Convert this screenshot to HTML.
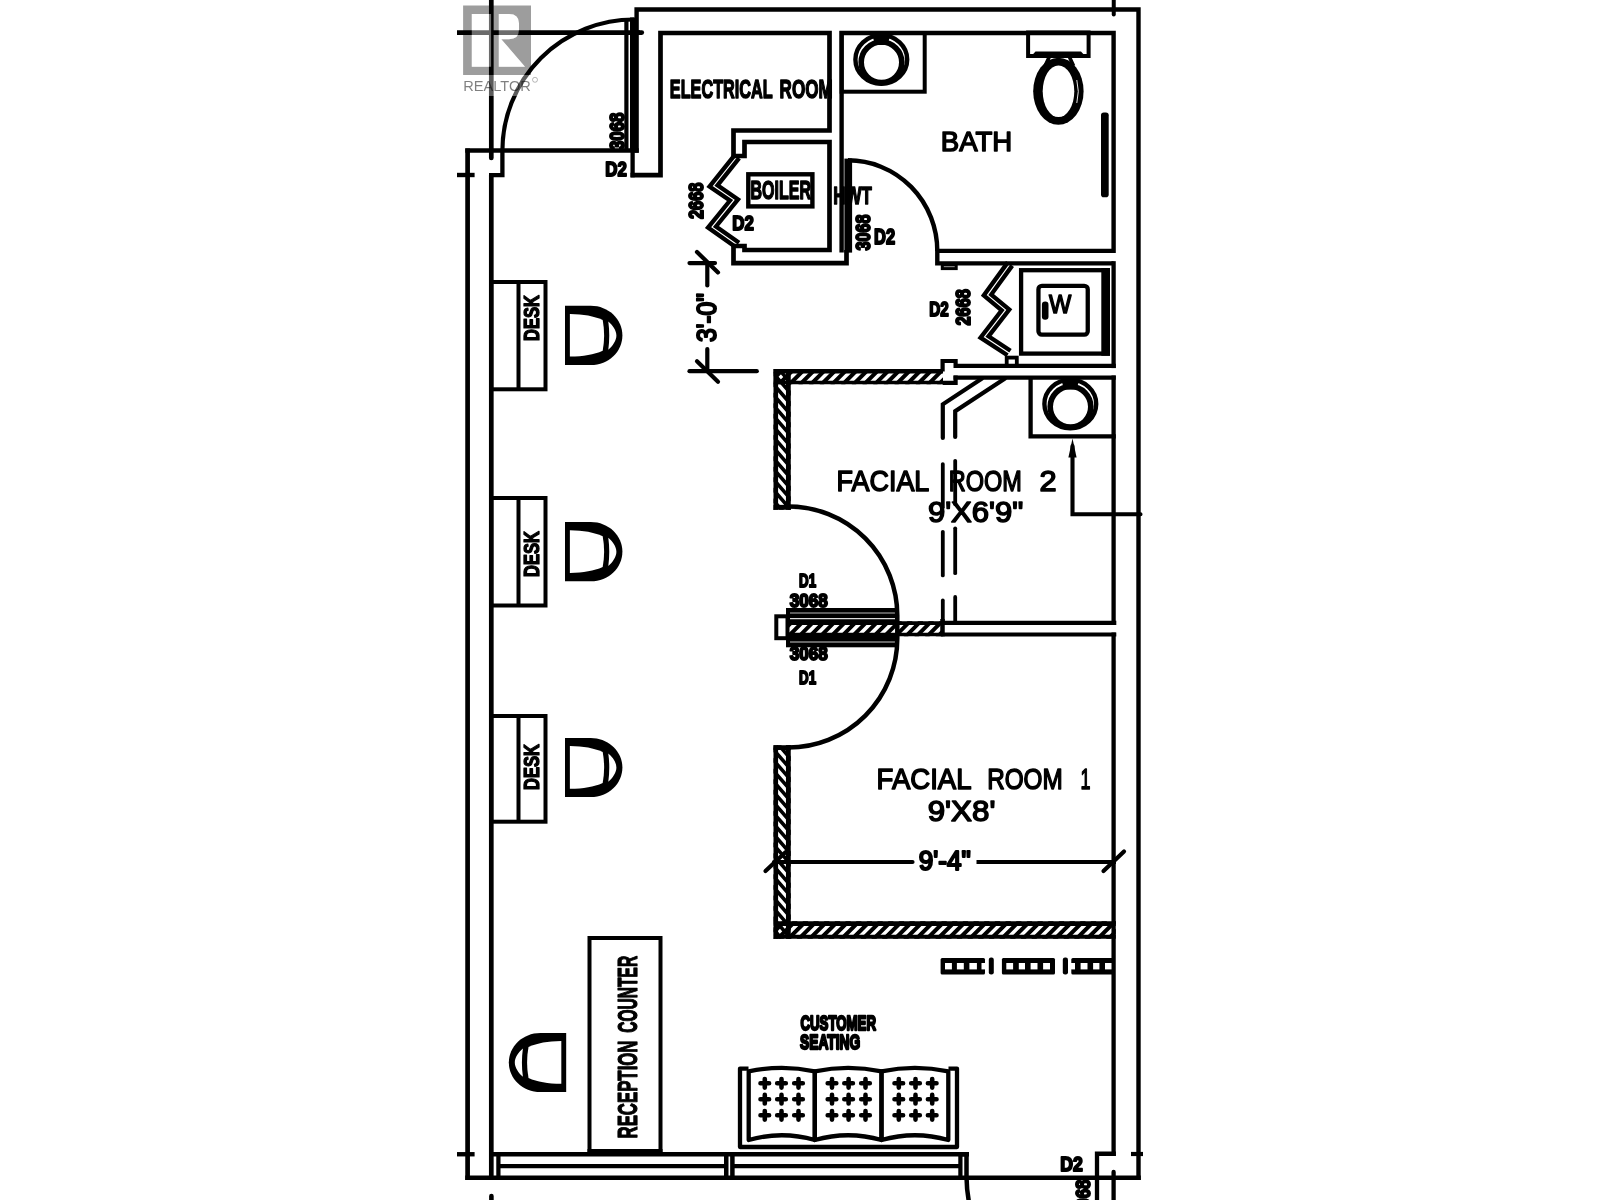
<!DOCTYPE html>
<html><head><meta charset="utf-8"><title>Floor plan</title>
<style>
html,body{margin:0;padding:0;background:#fff;}
body{width:1600px;height:1200px;overflow:hidden;font-family:"Liberation Sans",sans-serif;}
svg{display:block;filter:grayscale(1)}
</style></head><body>
<svg width="1600" height="1200" viewBox="0 0 1600 1200">
<rect width="1600" height="1200" fill="#fff"/>
<line x1="467.6" y1="148.4" x2="467.6" y2="1180" stroke="#000" stroke-width="4.7" stroke-linecap="butt" />
<line x1="491.3" y1="0" x2="491.3" y2="158" stroke="#000" stroke-width="4.7" stroke-linecap="round" />
<line x1="491.3" y1="175" x2="491.3" y2="1180" stroke="#000" stroke-width="4.7" stroke-linecap="butt" />
<line x1="465.25" y1="150.5" x2="638.75" y2="150.5" stroke="#000" stroke-width="4.5" stroke-linecap="butt" />
<path d="M489 175.1 L502.4 175.1 L502.4 150.5" fill="none" stroke="#000" stroke-width="4.3" stroke-linejoin="miter" stroke-linecap="butt"/>
<line x1="457" y1="175" x2="474.6" y2="175" stroke="#000" stroke-width="4.4" stroke-linecap="butt" />
<line x1="457" y1="32.6" x2="640" y2="32.6" stroke="#000" stroke-width="4.6" stroke-linecap="butt" />
<line x1="638" y1="32.6" x2="641.8" y2="32.6" stroke="#000" stroke-width="4.6" stroke-linecap="round" />
<path d="M636.6 152.75 L636.6 9.5 L1138.5 9.5 L1138.5 1180" fill="none" stroke="#000" stroke-width="4.4" stroke-linejoin="miter" stroke-linecap="butt"/>
<line x1="632.6" y1="148.3" x2="632.6" y2="177.3" stroke="#000" stroke-width="4.3" stroke-linecap="butt" />
<line x1="1113.75" y1="0" x2="1113.75" y2="14.5" stroke="#000" stroke-width="4" stroke-linecap="round" />
<path d="M630.5 175.1 L660.5 175.1 L660.5 33 L829.5 33 L829.5 130.5 L733.5 130.5 L733.5 156 L744.5 156 L744.5 142 L829.5 142 L829.5 250 L744.5 250 L744.5 246 L733.5 246 L733.5 263.2 L846.5 263.2 L846.5 250" fill="none" stroke="#000" stroke-width="4.7" stroke-linejoin="miter" stroke-linecap="butt"/>
<line x1="626.4" y1="19.5" x2="626.4" y2="150" stroke="#000" stroke-width="4.2" stroke-linecap="butt" />
<line x1="633.2" y1="17.5" x2="633.2" y2="152" stroke="#000" stroke-width="6.4" stroke-linecap="butt" />
<path d="M634 19.5 A131.6 131.2 0 0 0 502.4 150.7" fill="none" stroke="#000" stroke-width="4.2" />
<path d="M841.6 252.5 L841.6 33 L1113.6 33 L1113.6 250.85 L937.3 250.85 L937.3 263.4 L1113.6 263.4" fill="none" stroke="#000" stroke-width="4.4" stroke-linejoin="miter" stroke-linecap="butt"/>
<line x1="1113.6" y1="261.15" x2="1113.6" y2="368.1" stroke="#000" stroke-width="4.3" stroke-linecap="butt" />
<line x1="1113.6" y1="375.4" x2="1113.6" y2="624.9" stroke="#000" stroke-width="4.3" stroke-linecap="butt" />
<line x1="1113.6" y1="632.4" x2="1113.6" y2="1155.9" stroke="#000" stroke-width="4.3" stroke-linecap="butt" />
<rect x="844.4" y="158.6" width="7.7" height="94" fill="#000"/>
<path d="M848 160.3 A89.3 90.6 0 0 1 937.3 251" fill="none" stroke="#000" stroke-width="4.4" />
<rect x="841.6" y="33" width="83.10000000000002" height="58.7" rx="0" fill="none" stroke="#000" stroke-width="4"/>
<ellipse cx="881.3" cy="59.5" rx="25.9" ry="24.2" fill="none" stroke="#000" stroke-width="4.4"/>
<circle cx="881.5" cy="62.3" r="20.3" fill="none" stroke="#000" stroke-width="5.6"/>
<path d="M872.3 34.0 L890.3 34.0 L887.8 45.0 L874.8 45.0 Z" fill="#000"/>
<rect x="1028.1" y="32.5" width="60.5" height="23.5" rx="0" fill="none" stroke="#000" stroke-width="4"/>
<path d="M1030 57.5 L1035.5 51.5 L1081 51.5 L1086.5 57.5 Z" fill="#000"/>
<path d="M1049.7 56 L1045 66 M1069 56 L1073.6 66" stroke="#000" stroke-width="3.6" fill="none"/>
<ellipse cx="1058.4" cy="91.3" rx="25.2" ry="33.5" fill="#000"/>
<ellipse cx="1058.5" cy="91.3" rx="15.8" ry="25.8" fill="#fff"/>
<path d="M1076.8 80 Q1079.8 91.3 1076.8 103" stroke="#fff" stroke-width="0.9" fill="none"/>
<rect x="1101" y="112.4" width="7.7" height="84.8" rx="2.8" fill="#000"/>
<text x="940.8" y="151.25" font-family="Liberation Sans" font-size="28.5" font-weight="normal" text-anchor="start" textLength="71.5" lengthAdjust="spacingAndGlyphs" stroke="#000" stroke-width="1.5" stroke-linejoin="round" fill="#000">BATH</text>
<rect x="942.3" y="265" width="13.900000000000091" height="3.6000000000000227" rx="0" fill="none" stroke="#000" stroke-width="3"/>
<g stroke-miterlimit="3">
<path d="M734.8490586317215 154.78653823204937 L709.5 186.6 L729.98 200.58 L708.01 227.55 L735.9141212066037 247.2466616239781" fill="none" stroke="#000" stroke-width="4.3" stroke-linejoin="miter" stroke-linecap="butt"/>
<path d="M739.1509413682785 158.21346176795063 L717.5 185.4 L738.02 199.42 L715.99 226.45 L739.0858787933963 242.7533383760219" fill="none" stroke="#000" stroke-width="4.3" stroke-linejoin="miter" stroke-linecap="butt"/>
</g>
<rect x="748.3" y="174.3" width="64.10000000000002" height="32.099999999999994" rx="0" fill="none" stroke="#000" stroke-width="4.4"/>
<text x="750.5" y="198.65" font-family="Liberation Sans" font-size="26.5" font-weight="bold" text-anchor="start" textLength="60.5" lengthAdjust="spacingAndGlyphs" stroke="#000" stroke-width="1.5" stroke-linejoin="round" fill="#000">BOILER</text>
<text x="732.3" y="230.0" font-family="Liberation Sans" font-size="21" font-weight="bold" text-anchor="start" textLength="21.5" lengthAdjust="spacingAndGlyphs" stroke="#000" stroke-width="2.0" stroke-linejoin="round" fill="#000">D2</text>
<text x="702.5" y="219.0" font-family="Liberation Sans" font-size="21" font-weight="bold" text-anchor="start" textLength="36.5" lengthAdjust="spacingAndGlyphs" transform="rotate(-90 702.5 219.0)" stroke="#000" stroke-width="2.0" stroke-linejoin="round" fill="#000">2668</text>
<text x="833.3" y="203.9" font-family="Liberation Sans" font-size="24.5" font-weight="bold" text-anchor="start" textLength="38.5" lengthAdjust="spacingAndGlyphs" stroke="#000" stroke-width="1.4" stroke-linejoin="round" fill="#000">HWT</text>
<text x="869.6" y="250.5" font-family="Liberation Sans" font-size="21" font-weight="bold" text-anchor="start" textLength="36.0" lengthAdjust="spacingAndGlyphs" transform="rotate(-90 869.6 250.5)" stroke="#000" stroke-width="2.0" stroke-linejoin="round" fill="#000">3068</text>
<text x="874.1" y="243.5" font-family="Liberation Sans" font-size="21.5" font-weight="bold" text-anchor="start" textLength="21.0" lengthAdjust="spacingAndGlyphs" stroke="#000" stroke-width="2.0" stroke-linejoin="round" fill="#000">D2</text>
<text x="605.3" y="175.5" font-family="Liberation Sans" font-size="21" font-weight="bold" text-anchor="start" textLength="21.5" lengthAdjust="spacingAndGlyphs" stroke="#000" stroke-width="2.0" stroke-linejoin="round" fill="#000">D2</text>
<text x="623.5" y="150.0" font-family="Liberation Sans" font-size="21" font-weight="bold" text-anchor="start" textLength="37.5" lengthAdjust="spacingAndGlyphs" transform="rotate(-90 623.5 150.0)" stroke="#000" stroke-width="2.0" stroke-linejoin="round" fill="#000">3068</text>
<text x="669.8" y="98.05" font-family="Liberation Sans" font-size="26.5" font-weight="bold" text-anchor="start" textLength="103.0" lengthAdjust="spacingAndGlyphs" stroke="#000" stroke-width="1.5" stroke-linejoin="round" fill="#000">ELECTRICAL</text>
<text x="779.6" y="98.05" font-family="Liberation Sans" font-size="26.5" font-weight="bold" text-anchor="start" textLength="53.0" lengthAdjust="spacingAndGlyphs" stroke="#000" stroke-width="1.5" stroke-linejoin="round" fill="#000">ROOM</text>
<line x1="689.5" y1="263.1" x2="715" y2="263.1" stroke="#000" stroke-width="4.2" stroke-linecap="round" />
<line x1="707.3" y1="263" x2="707.3" y2="285.5" stroke="#000" stroke-width="4.2" stroke-linecap="round" />
<line x1="707.3" y1="349" x2="707.3" y2="371" stroke="#000" stroke-width="4.2" stroke-linecap="round" />
<line x1="697" y1="252" x2="718" y2="272.4" stroke="#000" stroke-width="4.2" stroke-linecap="round" />
<line x1="689.5" y1="371.2" x2="756.8" y2="371.2" stroke="#000" stroke-width="4.2" stroke-linecap="round" />
<line x1="697" y1="361.3" x2="718" y2="381.7" stroke="#000" stroke-width="4.2" stroke-linecap="round" />
<text x="715.55" y="342.0" font-family="Liberation Sans" font-size="28.5" font-weight="normal" text-anchor="start" textLength="49.0" lengthAdjust="spacingAndGlyphs" transform="rotate(-90 715.55 342.0)" stroke="#000" stroke-width="2.1" stroke-linejoin="round" fill="#000">3&#39;-0&quot;</text>
<rect x="491.2" y="282" width="54.30000000000001" height="107.30000000000001" rx="0" fill="none" stroke="#000" stroke-width="4"/>
<line x1="518.5" y1="282" x2="518.5" y2="389.3" stroke="#000" stroke-width="4" stroke-linecap="butt" />
<rect x="491.2" y="498" width="54.30000000000001" height="107.5" rx="0" fill="none" stroke="#000" stroke-width="4"/>
<line x1="518.5" y1="498" x2="518.5" y2="605.5" stroke="#000" stroke-width="4" stroke-linecap="butt" />
<rect x="491.2" y="716" width="54.30000000000001" height="105.70000000000005" rx="0" fill="none" stroke="#000" stroke-width="4"/>
<line x1="518.5" y1="716" x2="518.5" y2="821.7" stroke="#000" stroke-width="4" stroke-linecap="butt" />
<text x="538.65" y="341.0" font-family="Liberation Sans" font-size="21.5" font-weight="bold" text-anchor="start" textLength="46.0" lengthAdjust="spacingAndGlyphs" transform="rotate(-90 538.65 341.0)" stroke="#000" stroke-width="1.3" stroke-linejoin="round" fill="#000">DESK</text>
<text x="538.65" y="577.0" font-family="Liberation Sans" font-size="21.5" font-weight="bold" text-anchor="start" textLength="46.0" lengthAdjust="spacingAndGlyphs" transform="rotate(-90 538.65 577.0)" stroke="#000" stroke-width="1.3" stroke-linejoin="round" fill="#000">DESK</text>
<text x="538.65" y="790.0" font-family="Liberation Sans" font-size="21.5" font-weight="bold" text-anchor="start" textLength="46.0" lengthAdjust="spacingAndGlyphs" transform="rotate(-90 538.65 790.0)" stroke="#000" stroke-width="1.3" stroke-linejoin="round" fill="#000">DESK</text>
<g transform="translate(593.7 335.4) scale(1 1)">
<path d="M-28.7 -29.6 L-3 -29.6 C15 -29.6 28.7 -16 28.7 0 C28.7 16 15 29.6 -3 29.6 L-28.7 29.6 Z" fill="#000"/>
<path d="M-23.8 -21.4 C-10 -21 0 -19.5 9 -15.4 C10.9 -5 10.9 5 9 15.4 C0 19.5 -10 21 -23.8 21.2 Z" fill="#fff"/>
<path d="M14.6 -14 C19 -10.5 22.7 -5 22.7 0 C22.7 5 19 10.5 14.6 14.3 C15.9 5 15.9 -5 14.6 -14 Z" fill="#fff"/>
</g>
<g transform="translate(593.7 551.7) scale(1 1)">
<path d="M-28.7 -29.6 L-3 -29.6 C15 -29.6 28.7 -16 28.7 0 C28.7 16 15 29.6 -3 29.6 L-28.7 29.6 Z" fill="#000"/>
<path d="M-23.8 -21.4 C-10 -21 0 -19.5 9 -15.4 C10.9 -5 10.9 5 9 15.4 C0 19.5 -10 21 -23.8 21.2 Z" fill="#fff"/>
<path d="M14.6 -14 C19 -10.5 22.7 -5 22.7 0 C22.7 5 19 10.5 14.6 14.3 C15.9 5 15.9 -5 14.6 -14 Z" fill="#fff"/>
</g>
<g transform="translate(593.7 767.5) scale(1 1)">
<path d="M-28.7 -29.6 L-3 -29.6 C15 -29.6 28.7 -16 28.7 0 C28.7 16 15 29.6 -3 29.6 L-28.7 29.6 Z" fill="#000"/>
<path d="M-23.8 -21.4 C-10 -21 0 -19.5 9 -15.4 C10.9 -5 10.9 5 9 15.4 C0 19.5 -10 21 -23.8 21.2 Z" fill="#fff"/>
<path d="M14.6 -14 C19 -10.5 22.7 -5 22.7 0 C22.7 5 19 10.5 14.6 14.3 C15.9 5 15.9 -5 14.6 -14 Z" fill="#fff"/>
</g>
<g transform="translate(537.5 1062.5) scale(-1 1)">
<path d="M-28.7 -29.6 L-3 -29.6 C15 -29.6 28.7 -16 28.7 0 C28.7 16 15 29.6 -3 29.6 L-28.7 29.6 Z" fill="#000"/>
<path d="M-23.8 -21.4 C-10 -21 0 -19.5 9 -15.4 C10.9 -5 10.9 5 9 15.4 C0 19.5 -10 21 -23.8 21.2 Z" fill="#fff"/>
<path d="M14.6 -14 C19 -10.5 22.7 -5 22.7 0 C22.7 5 19 10.5 14.6 14.3 C15.9 5 15.9 -5 14.6 -14 Z" fill="#fff"/>
</g>
<rect x="589.5" y="938" width="71.0" height="213" rx="0" fill="none" stroke="#000" stroke-width="4"/>
<line x1="587.5" y1="1152" x2="662.5" y2="1152" stroke="#000" stroke-width="6" stroke-linecap="butt" />
<text x="636.6" y="1138.5" font-family="Liberation Sans" font-size="27.5" font-weight="bold" text-anchor="start" textLength="98.0" lengthAdjust="spacingAndGlyphs" transform="rotate(-90 636.6 1138.5)" stroke="#000" stroke-width="1.2" stroke-linejoin="round" fill="#000">RECEPTION</text>
<text x="636.6" y="1032.8" font-family="Liberation Sans" font-size="27.5" font-weight="bold" text-anchor="start" textLength="77.0" lengthAdjust="spacingAndGlyphs" transform="rotate(-90 636.6 1032.8)" stroke="#000" stroke-width="1.2" stroke-linejoin="round" fill="#000">COUNTER</text>
<line x1="465.25" y1="1177.75" x2="1140.8" y2="1177.75" stroke="#000" stroke-width="4.5" stroke-linecap="butt" />
<line x1="491" y1="1154.2" x2="969" y2="1154.2" stroke="#000" stroke-width="4.4" stroke-linecap="butt" />
<line x1="498.4" y1="1166.1" x2="726" y2="1166.1" stroke="#000" stroke-width="4.25" stroke-linecap="butt" />
<line x1="732" y1="1166.1" x2="960" y2="1166.1" stroke="#000" stroke-width="4.25" stroke-linecap="butt" />
<line x1="498.4" y1="1154" x2="498.4" y2="1177" stroke="#000" stroke-width="4.25" stroke-linecap="butt" />
<line x1="726.25" y1="1154" x2="726.25" y2="1177" stroke="#000" stroke-width="4.5" stroke-linecap="butt" />
<line x1="732.4" y1="1154" x2="732.4" y2="1177" stroke="#000" stroke-width="4.5" stroke-linecap="butt" />
<line x1="960.4" y1="1154" x2="960.4" y2="1177" stroke="#000" stroke-width="4.25" stroke-linecap="butt" />
<path d="M962 1154.2 L964.5 1154.2 Q966.5 1154.2 966.5 1156.2 L966.5 1177" fill="none" stroke="#000" stroke-width="4.5"/>
<line x1="457" y1="1154.25" x2="474.6" y2="1154.25" stroke="#000" stroke-width="4.4" stroke-linecap="butt" />
<line x1="491.4" y1="1196" x2="491.4" y2="1200" stroke="#000" stroke-width="4.6" stroke-linecap="round" />
<path d="M1097 1200 L1097 1153.75 L1115.85 1153.75" fill="none" stroke="#000" stroke-width="4.3" stroke-linejoin="miter" stroke-linecap="butt"/>
<line x1="1113.6" y1="1172" x2="1113.6" y2="1200" stroke="#000" stroke-width="4.3" stroke-linecap="round" />
<line x1="1131" y1="1154" x2="1143" y2="1154" stroke="#000" stroke-width="4.2" stroke-linecap="butt" />
<path d="M966.5 1177 Q966.7 1190 968.8 1201" fill="none" stroke="#000" stroke-width="4.5" />
<text x="1060.3" y="1171.0" font-family="Liberation Sans" font-size="21" font-weight="bold" text-anchor="start" textLength="22.5" lengthAdjust="spacingAndGlyphs" stroke="#000" stroke-width="2.0" stroke-linejoin="round" fill="#000">D2</text>
<text x="1089.5" y="1217.0" font-family="Liberation Sans" font-size="21" font-weight="bold" text-anchor="start" textLength="37.5" lengthAdjust="spacingAndGlyphs" transform="rotate(-90 1089.5 1217.0)" stroke="#000" stroke-width="2" stroke-linejoin="round" fill="#000">3068</text>
<line x1="955" y1="365.9" x2="1115.8" y2="365.9" stroke="#000" stroke-width="4.4" stroke-linecap="butt" />
<line x1="953.5" y1="377.6" x2="1115.8" y2="377.6" stroke="#000" stroke-width="4.4" stroke-linecap="butt" />
<rect x="1021.1" y="270.2" width="86.69999999999993" height="83.40000000000003" rx="0" fill="none" stroke="#000" stroke-width="4.3"/>
<line x1="1105.65" y1="268.1" x2="1105.65" y2="355.75" stroke="#000" stroke-width="8.7" stroke-linecap="butt" />
<rect x="1038.45" y="285.85" width="49.299999999999955" height="48.799999999999955" rx="3.5" fill="none" stroke="#000" stroke-width="4.3"/>
<text x="1049.1" y="312.75" font-family="Liberation Sans" font-size="25.5" font-weight="normal" text-anchor="start" textLength="22.3" lengthAdjust="spacingAndGlyphs" stroke="#000" stroke-width="1.5" stroke-linejoin="round" fill="#000">W</text>
<rect x="1041.9" y="301.6" width="6.6" height="18.2" rx="3.2" fill="#000"/>
<g stroke-miterlimit="3">
<path d="M1007.7744245165018 262.38466295552547 L983.76 295.47 L1001.7 310.41 L980.5 337.67 L1007.4963305224185 355.3024938875467" fill="none" stroke="#000" stroke-width="4.3" stroke-linejoin="miter" stroke-linecap="butt"/>
<path d="M1012.2255754834982 265.61533704447453 L991.24 294.53 L1009.3 309.59 L988.5 336.33 L1010.5036694775815 350.6975061124533" fill="none" stroke="#000" stroke-width="4.3" stroke-linejoin="miter" stroke-linecap="butt"/>
</g>
<rect x="1006.7" y="357.6" width="10.099999999999909" height="8.299999999999955" rx="0" fill="none" stroke="#000" stroke-width="3.8"/>
<text x="929.3" y="316.0" font-family="Liberation Sans" font-size="21" font-weight="bold" text-anchor="start" textLength="19.5" lengthAdjust="spacingAndGlyphs" stroke="#000" stroke-width="2.0" stroke-linejoin="round" fill="#000">D2</text>
<text x="969.5" y="325.5" font-family="Liberation Sans" font-size="21" font-weight="bold" text-anchor="start" textLength="36.5" lengthAdjust="spacingAndGlyphs" transform="rotate(-90 969.5 325.5)" stroke="#000" stroke-width="2.0" stroke-linejoin="round" fill="#000">2668</text>
<path d="M955.6 368.1 L955.6 361 L942.6 361 L942.6 371.5" fill="none" stroke="#000" stroke-width="4.2" stroke-linejoin="miter" stroke-linecap="butt"/>
<path d="M942.6 382.9 L955.6 382.9 L955.6 375.4" fill="none" stroke="#000" stroke-width="4.2" stroke-linejoin="miter" stroke-linecap="butt"/>
<clipPath id="c1"><rect x="773.75" y="369.1" width="169.25" height="15.149999999999977"/></clipPath>
<path d="M735.21 385.25 L752.36 368.10 M745.88 385.25 L763.03 368.10 M756.55 385.25 L773.70 368.10 M767.22 385.25 L784.37 368.10 M777.89 385.25 L795.04 368.10 M788.56 385.25 L805.71 368.10 M799.23 385.25 L816.38 368.10 M809.90 385.25 L827.05 368.10 M820.57 385.25 L837.72 368.10 M831.24 385.25 L848.39 368.10 M841.91 385.25 L859.06 368.10 M852.58 385.25 L869.73 368.10 M863.25 385.25 L880.40 368.10 M873.92 385.25 L891.07 368.10 M884.59 385.25 L901.74 368.10 M895.26 385.25 L912.41 368.10 M905.93 385.25 L923.08 368.10 M916.60 385.25 L933.75 368.10 M927.27 385.25 L944.42 368.10 M937.94 385.25 L955.09 368.10 M948.61 385.25 L965.76 368.10 " stroke="#000" stroke-width="4.0" fill="none" clip-path="url(#c1)"/>
<line x1="773.75" y1="371.35" x2="943" y2="371.35" stroke="#000" stroke-width="4.5" stroke-linecap="butt" />
<line x1="773.75" y1="382.45" x2="943" y2="382.45" stroke="#000" stroke-width="3.6" stroke-linecap="butt" />
<clipPath id="c2"><rect x="773.5" y="369.1" width="17.25" height="140.64999999999998"/></clipPath>
<path d="M772.50 330.24 L791.75 352.37 M772.50 340.81 L791.75 362.94 M772.50 351.38 L791.75 373.51 M772.50 361.95 L791.75 384.08 M772.50 372.52 L791.75 394.65 M772.50 383.09 L791.75 405.22 M772.50 393.66 L791.75 415.79 M772.50 404.23 L791.75 426.36 M772.50 414.80 L791.75 436.93 M772.50 425.37 L791.75 447.50 M772.50 435.94 L791.75 458.07 M772.50 446.51 L791.75 468.64 M772.50 457.08 L791.75 479.21 M772.50 467.65 L791.75 489.78 M772.50 478.22 L791.75 500.35 M772.50 488.79 L791.75 510.92 M772.50 499.36 L791.75 521.49 M772.50 509.93 L791.75 532.06 " stroke="#000" stroke-width="3.6" fill="none" clip-path="url(#c2)"/>
<line x1="775.8" y1="369.1" x2="775.8" y2="509.75" stroke="#000" stroke-width="4.6" stroke-linecap="butt" />
<line x1="788.35" y1="369.1" x2="788.35" y2="509.75" stroke="#000" stroke-width="4.8" stroke-linecap="butt" />
<line x1="773.5" y1="507.3" x2="790.75" y2="507.3" stroke="#000" stroke-width="4.9" stroke-linecap="butt" />
<clipPath id="c3"><rect x="773.5" y="745.25" width="17.25" height="193.5"/></clipPath>
<path d="M772.50 706.14 L791.75 728.27 M772.50 716.71 L791.75 738.84 M772.50 727.28 L791.75 749.41 M772.50 737.85 L791.75 759.98 M772.50 748.42 L791.75 770.55 M772.50 758.99 L791.75 781.12 M772.50 769.56 L791.75 791.69 M772.50 780.13 L791.75 802.26 M772.50 790.70 L791.75 812.83 M772.50 801.27 L791.75 823.40 M772.50 811.84 L791.75 833.97 M772.50 822.41 L791.75 844.54 M772.50 832.98 L791.75 855.11 M772.50 843.55 L791.75 865.68 M772.50 854.12 L791.75 876.25 M772.50 864.69 L791.75 886.82 M772.50 875.26 L791.75 897.39 M772.50 885.83 L791.75 907.96 M772.50 896.40 L791.75 918.53 M772.50 906.97 L791.75 929.10 M772.50 917.54 L791.75 939.67 M772.50 928.11 L791.75 950.24 M772.50 938.68 L791.75 960.81 " stroke="#000" stroke-width="3.6" fill="none" clip-path="url(#c3)"/>
<line x1="775.8" y1="745.25" x2="775.8" y2="938.75" stroke="#000" stroke-width="4.6" stroke-linecap="butt" />
<line x1="788.35" y1="745.25" x2="788.35" y2="938.75" stroke="#000" stroke-width="4.8" stroke-linecap="butt" />
<line x1="773.5" y1="747.6" x2="790.75" y2="747.6" stroke="#000" stroke-width="4.75" stroke-linecap="butt" />
<clipPath id="c4"><rect x="773.75" y="921.25" width="342.04999999999995" height="17.5"/></clipPath>
<path d="M734.04 939.75 L753.54 920.25 M744.71 939.75 L764.21 920.25 M755.38 939.75 L774.88 920.25 M766.05 939.75 L785.55 920.25 M776.72 939.75 L796.22 920.25 M787.38 939.75 L806.88 920.25 M798.05 939.75 L817.55 920.25 M808.72 939.75 L828.22 920.25 M819.39 939.75 L838.89 920.25 M830.06 939.75 L849.56 920.25 M840.73 939.75 L860.23 920.25 M851.40 939.75 L870.90 920.25 M862.07 939.75 L881.57 920.25 M872.74 939.75 L892.24 920.25 M883.41 939.75 L902.91 920.25 M894.08 939.75 L913.58 920.25 M904.75 939.75 L924.25 920.25 M915.42 939.75 L934.92 920.25 M926.09 939.75 L945.59 920.25 M936.76 939.75 L956.26 920.25 M947.43 939.75 L966.93 920.25 M958.10 939.75 L977.60 920.25 M968.77 939.75 L988.27 920.25 M979.44 939.75 L998.94 920.25 M990.11 939.75 L1009.61 920.25 M1000.78 939.75 L1020.28 920.25 M1011.45 939.75 L1030.95 920.25 M1022.12 939.75 L1041.62 920.25 M1032.79 939.75 L1052.29 920.25 M1043.46 939.75 L1062.96 920.25 M1054.13 939.75 L1073.63 920.25 M1064.80 939.75 L1084.30 920.25 M1075.47 939.75 L1094.97 920.25 M1086.14 939.75 L1105.64 920.25 M1096.81 939.75 L1116.31 920.25 M1107.48 939.75 L1126.98 920.25 M1118.15 939.75 L1137.65 920.25 " stroke="#000" stroke-width="4.0" fill="none" clip-path="url(#c4)"/>
<line x1="773.75" y1="923.625" x2="1115.8" y2="923.625" stroke="#000" stroke-width="4.75" stroke-linecap="butt" />
<line x1="773.75" y1="936.75" x2="1115.8" y2="936.75" stroke="#000" stroke-width="4.0" stroke-linecap="butt" />
<clipPath id="c5"><rect x="787" y="621.2" width="156" height="15.099999999999909"/></clipPath>
<path d="M755.38 637.30 L772.48 620.20 M766.05 637.30 L783.15 620.20 M776.72 637.30 L793.82 620.20 M787.39 637.30 L804.49 620.20 M798.06 637.30 L815.15 620.20 M808.73 637.30 L825.82 620.20 M819.39 637.30 L836.49 620.20 M830.06 637.30 L847.16 620.20 M840.73 637.30 L857.83 620.20 M851.40 637.30 L868.50 620.20 M862.07 637.30 L879.17 620.20 M872.74 637.30 L889.84 620.20 M883.41 637.30 L900.51 620.20 M894.08 637.30 L911.18 620.20 M904.75 637.30 L921.85 620.20 M915.42 637.30 L932.52 620.20 M926.09 637.30 L943.19 620.20 M936.76 637.30 L953.86 620.20 M947.43 637.30 L964.53 620.20 " stroke="#000" stroke-width="4.0" fill="none" clip-path="url(#c5)"/>
<line x1="787" y1="623.1" x2="943" y2="623.1" stroke="#000" stroke-width="3.8" stroke-linecap="butt" />
<line x1="787" y1="634.5" x2="943" y2="634.5" stroke="#000" stroke-width="3.6" stroke-linecap="butt" />
<line x1="942.5" y1="619" x2="942.5" y2="636.3" stroke="#000" stroke-width="4.5" stroke-linecap="butt" />
<line x1="941" y1="622.8000000000001" x2="1116.3" y2="622.8000000000001" stroke="#000" stroke-width="4.2" stroke-linecap="butt" />
<line x1="941" y1="634.5" x2="1116.3" y2="634.5" stroke="#000" stroke-width="4.2" stroke-linecap="butt" />
<rect x="776.3" y="616.3" width="11.200000000000045" height="21.90000000000009" rx="0" fill="none" stroke="#000" stroke-width="4"/>
<rect x="786" y="608" width="110" height="15" fill="#000"/>
<line x1="790" y1="613" x2="895" y2="613" stroke="#000" stroke-width="1" stroke-linecap="butt" style="stroke:#bbb"/>
<line x1="790" y1="618.7" x2="895" y2="618.7" stroke="#000" stroke-width="1.2" stroke-linecap="butt" style="stroke:#ddd"/>
<rect x="786" y="635" width="110" height="12.3" fill="#000"/>
<line x1="790" y1="642" x2="895" y2="642" stroke="#000" stroke-width="1.1" stroke-linecap="butt" style="stroke:#ccc"/>
<path d="M788.3 506.5 A109 109 0 0 1 897.3 615.5 L897.3 638.5 A109 109 0 0 1 788.3 747.5" fill="none" stroke="#000" stroke-width="4.5" />
<text x="799.1" y="586.6" font-family="Liberation Sans" font-size="18.5" font-weight="bold" text-anchor="start" textLength="17.0" lengthAdjust="spacingAndGlyphs" stroke="#000" stroke-width="2.0" stroke-linejoin="round" fill="#000">D1</text>
<text x="789.8" y="606.6" font-family="Liberation Sans" font-size="19" font-weight="bold" text-anchor="start" textLength="38.0" lengthAdjust="spacingAndGlyphs" stroke="#000" stroke-width="2.0" stroke-linejoin="round" fill="#000">3068</text>
<text x="789.8" y="659.8" font-family="Liberation Sans" font-size="19" font-weight="bold" text-anchor="start" textLength="38.0" lengthAdjust="spacingAndGlyphs" stroke="#000" stroke-width="2.0" stroke-linejoin="round" fill="#000">3068</text>
<text x="799.1" y="683.6" font-family="Liberation Sans" font-size="18.5" font-weight="bold" text-anchor="start" textLength="17.0" lengthAdjust="spacingAndGlyphs" stroke="#000" stroke-width="2.0" stroke-linejoin="round" fill="#000">D1</text>
<path d="M982 378.5 L942.8 404.3 L942.8 438" fill="none" stroke="#000" stroke-width="4.2" stroke-linejoin="miter" stroke-linecap="round"/>
<path d="M1005 378.5 L955.2 411.2 L955.2 437" fill="none" stroke="#000" stroke-width="4.2" stroke-linejoin="miter" stroke-linecap="round"/>
<line x1="942.8" y1="464.1" x2="942.8" y2="507.2" stroke="#000" stroke-width="3.8" stroke-linecap="round" />
<line x1="942.8" y1="531.8" x2="942.8" y2="575.4" stroke="#000" stroke-width="3.8" stroke-linecap="round" />
<line x1="942.8" y1="600.4" x2="942.8" y2="621" stroke="#000" stroke-width="3.8" stroke-linecap="round" />
<line x1="955.2" y1="460.8" x2="955.2" y2="504.2" stroke="#000" stroke-width="3.8" stroke-linecap="round" />
<line x1="955.2" y1="528.3" x2="955.2" y2="573.2" stroke="#000" stroke-width="3.8" stroke-linecap="round" />
<line x1="955.2" y1="597" x2="955.2" y2="621" stroke="#000" stroke-width="3.8" stroke-linecap="round" />
<path d="M1030.6 377.6 L1030.6 436.4 L1115.8 436.4" fill="none" stroke="#000" stroke-width="4.3" stroke-linejoin="miter" stroke-linecap="butt"/>
<ellipse cx="1070.3" cy="404" rx="25.9" ry="24.2" fill="none" stroke="#000" stroke-width="4.4"/>
<circle cx="1070.5" cy="406.8" r="20.3" fill="none" stroke="#000" stroke-width="5.6"/>
<path d="M1061.3 378.5 L1079.3 378.5 L1076.8 389.5 L1063.8 389.5 Z" fill="#000"/>
<path d="M1072.5 446 L1072.5 514.2 L1140.5 514.2" fill="none" stroke="#000" stroke-width="4.1" stroke-linejoin="miter" stroke-linecap="round"/>
<path d="M1072.5 438.6 L1076.6 457.5 L1068.4 457.5 Z" fill="#000"/>
<text x="836.6" y="491.45" font-family="Liberation Sans" font-size="29" font-weight="normal" text-anchor="start" textLength="92.7" lengthAdjust="spacingAndGlyphs" stroke="#000" stroke-width="1.5" stroke-linejoin="round" fill="#000">FACIAL</text>
<text x="948.8" y="491.45" font-family="Liberation Sans" font-size="29" font-weight="normal" text-anchor="start" textLength="73.0" lengthAdjust="spacingAndGlyphs" stroke="#000" stroke-width="1.5" stroke-linejoin="round" fill="#000">ROOM</text>
<text x="1039.6" y="491.45" font-family="Liberation Sans" font-size="29" font-weight="normal" text-anchor="start" textLength="17.1" lengthAdjust="spacingAndGlyphs" stroke="#000" stroke-width="1.5" stroke-linejoin="round" fill="#000">2</text>
<text x="927.9" y="522.45" font-family="Liberation Sans" font-size="29" font-weight="normal" text-anchor="start" textLength="95.5" lengthAdjust="spacingAndGlyphs" stroke="#000" stroke-width="1.5" stroke-linejoin="round" fill="#000">9&#39;X6&#39;9&quot;</text>
<text x="876.6" y="789.05" font-family="Liberation Sans" font-size="29" font-weight="normal" text-anchor="start" textLength="95.0" lengthAdjust="spacingAndGlyphs" stroke="#000" stroke-width="1.5" stroke-linejoin="round" fill="#000">FACIAL</text>
<text x="987.2" y="789.05" font-family="Liberation Sans" font-size="29" font-weight="normal" text-anchor="start" textLength="75.5" lengthAdjust="spacingAndGlyphs" stroke="#000" stroke-width="1.5" stroke-linejoin="round" fill="#000">ROOM</text>
<text x="1080.6" y="789.05" font-family="Liberation Sans" font-size="29" font-weight="normal" text-anchor="start" textLength="10.0" lengthAdjust="spacingAndGlyphs" stroke="#000" stroke-width="1.5" stroke-linejoin="round" fill="#000">1</text>
<text x="927.7" y="821.45" font-family="Liberation Sans" font-size="29" font-weight="normal" text-anchor="start" textLength="67.7" lengthAdjust="spacingAndGlyphs" stroke="#000" stroke-width="1.5" stroke-linejoin="round" fill="#000">9&#39;X8&#39;</text>
<line x1="774" y1="862" x2="912.5" y2="862" stroke="#000" stroke-width="4.2" stroke-linecap="round" />
<line x1="976.5" y1="862" x2="1116" y2="862" stroke="#000" stroke-width="4.2" stroke-linecap="butt" />
<line x1="765.5" y1="871" x2="785.5" y2="852.3" stroke="#000" stroke-width="4.2" stroke-linecap="round" />
<line x1="1103.5" y1="871" x2="1124" y2="851.5" stroke="#000" stroke-width="4.2" stroke-linecap="round" />
<text x="918.8" y="869.55" font-family="Liberation Sans" font-size="27" font-weight="normal" text-anchor="start" textLength="52.0" lengthAdjust="spacingAndGlyphs" stroke="#000" stroke-width="2.1" stroke-linejoin="round" fill="#000">9&#39;-4&quot;</text>
<rect x="940.6" y="958" width="44.39999999999998" height="16.399999999999977" rx="1.5" fill="#000"/>
<rect x="945" y="963" width="6.90" height="6.4" fill="#fff"/>
<rect x="956.9" y="963" width="6.90" height="6.4" fill="#fff"/>
<rect x="969.4" y="963" width="7.50" height="6.4" fill="#fff"/>
<rect x="981.5" y="963" width="4.00" height="6.4" fill="#fff"/>
<rect x="1001.9" y="958" width="53.10000000000002" height="16.399999999999977" rx="1.5" fill="#000"/>
<rect x="1006.3" y="963" width="6.80" height="6.4" fill="#fff"/>
<rect x="1018.8" y="963" width="6.20" height="6.4" fill="#fff"/>
<rect x="1030.6" y="963" width="6.90" height="6.4" fill="#fff"/>
<rect x="1043.1" y="963" width="6.90" height="6.4" fill="#fff"/>
<rect x="1071.3" y="958" width="42.700000000000045" height="16.399999999999977" rx="1.5" fill="#000"/>
<rect x="1070.8" y="963" width="4.20" height="6.4" fill="#fff"/>
<rect x="1080.6" y="963" width="6.90" height="6.4" fill="#fff"/>
<rect x="1093.1" y="963" width="6.30" height="6.4" fill="#fff"/>
<rect x="1105" y="963" width="6.50" height="6.4" fill="#fff"/>
<rect x="988.8" y="957.5" width="5" height="17" rx="2.2" fill="#000"/>
<rect x="1062.8" y="957.5" width="5.2" height="17" rx="2.2" fill="#000"/>
<text x="800.5" y="1029.65" font-family="Liberation Sans" font-size="20.5" font-weight="bold" text-anchor="start" textLength="75.5" lengthAdjust="spacingAndGlyphs" stroke="#000" stroke-width="2.3" stroke-linejoin="round" fill="#000">CUSTOMER</text>
<text x="800.1" y="1048.65" font-family="Liberation Sans" font-size="20.5" font-weight="bold" text-anchor="start" textLength="60.1" lengthAdjust="spacingAndGlyphs" stroke="#000" stroke-width="2.3" stroke-linejoin="round" fill="#000">SEATING</text>
<path d="M748.5 1068.6 L740 1068.6 L740 1147 L957 1147 L957 1068.6 L948.5 1068.6" fill="none" stroke="#000" stroke-width="4.3" stroke-linejoin="round" stroke-linecap="butt"/>
<path d="M748.7 1140 L748.7 1071.3 Q781.75 1064.3 814.8 1071.3 L814.8 1140 Q781.75 1130.5 748.7 1140 Z" fill="none" stroke="#000" stroke-width="4.3" stroke-linejoin="round"/>
<path d="M814.8 1140 L814.8 1071.3 Q848.15 1064.3 881.5 1071.3 L881.5 1140 Q848.15 1130.5 814.8 1140 Z" fill="none" stroke="#000" stroke-width="4.3" stroke-linejoin="round"/>
<path d="M881.5 1140 L881.5 1071.3 Q914.9 1064.3 948.3 1071.3 L948.3 1140 Q914.9 1130.5 881.5 1140 Z" fill="none" stroke="#000" stroke-width="4.3" stroke-linejoin="round"/>
<path d="M760.5 1083.3 H769.0999999999999 M764.8 1079.0 V1087.6" stroke="#000" stroke-width="4.6" stroke-linecap="round" fill="none"/>
<path d="M760.5 1099.2 H769.0999999999999 M764.8 1094.9 V1103.5" stroke="#000" stroke-width="4.6" stroke-linecap="round" fill="none"/>
<path d="M760.5 1115.3 H769.0999999999999 M764.8 1111.0 V1119.6" stroke="#000" stroke-width="4.6" stroke-linecap="round" fill="none"/>
<path d="M777.2 1083.3 H785.8 M781.5 1079.0 V1087.6" stroke="#000" stroke-width="4.6" stroke-linecap="round" fill="none"/>
<path d="M777.2 1099.2 H785.8 M781.5 1094.9 V1103.5" stroke="#000" stroke-width="4.6" stroke-linecap="round" fill="none"/>
<path d="M777.2 1115.3 H785.8 M781.5 1111.0 V1119.6" stroke="#000" stroke-width="4.6" stroke-linecap="round" fill="none"/>
<path d="M794.2 1083.3 H802.8 M798.5 1079.0 V1087.6" stroke="#000" stroke-width="4.6" stroke-linecap="round" fill="none"/>
<path d="M794.2 1099.2 H802.8 M798.5 1094.9 V1103.5" stroke="#000" stroke-width="4.6" stroke-linecap="round" fill="none"/>
<path d="M794.2 1115.3 H802.8 M798.5 1111.0 V1119.6" stroke="#000" stroke-width="4.6" stroke-linecap="round" fill="none"/>
<path d="M827.7 1083.3 H836.3 M832 1079.0 V1087.6" stroke="#000" stroke-width="4.6" stroke-linecap="round" fill="none"/>
<path d="M827.7 1099.2 H836.3 M832 1094.9 V1103.5" stroke="#000" stroke-width="4.6" stroke-linecap="round" fill="none"/>
<path d="M827.7 1115.3 H836.3 M832 1111.0 V1119.6" stroke="#000" stroke-width="4.6" stroke-linecap="round" fill="none"/>
<path d="M844.3000000000001 1083.3 H852.9 M848.6 1079.0 V1087.6" stroke="#000" stroke-width="4.6" stroke-linecap="round" fill="none"/>
<path d="M844.3000000000001 1099.2 H852.9 M848.6 1094.9 V1103.5" stroke="#000" stroke-width="4.6" stroke-linecap="round" fill="none"/>
<path d="M844.3000000000001 1115.3 H852.9 M848.6 1111.0 V1119.6" stroke="#000" stroke-width="4.6" stroke-linecap="round" fill="none"/>
<path d="M861.2 1083.3 H869.8 M865.5 1079.0 V1087.6" stroke="#000" stroke-width="4.6" stroke-linecap="round" fill="none"/>
<path d="M861.2 1099.2 H869.8 M865.5 1094.9 V1103.5" stroke="#000" stroke-width="4.6" stroke-linecap="round" fill="none"/>
<path d="M861.2 1115.3 H869.8 M865.5 1111.0 V1119.6" stroke="#000" stroke-width="4.6" stroke-linecap="round" fill="none"/>
<path d="M894.5 1083.3 H903.0999999999999 M898.8 1079.0 V1087.6" stroke="#000" stroke-width="4.6" stroke-linecap="round" fill="none"/>
<path d="M894.5 1099.2 H903.0999999999999 M898.8 1094.9 V1103.5" stroke="#000" stroke-width="4.6" stroke-linecap="round" fill="none"/>
<path d="M894.5 1115.3 H903.0999999999999 M898.8 1111.0 V1119.6" stroke="#000" stroke-width="4.6" stroke-linecap="round" fill="none"/>
<path d="M911.2 1083.3 H919.8 M915.5 1079.0 V1087.6" stroke="#000" stroke-width="4.6" stroke-linecap="round" fill="none"/>
<path d="M911.2 1099.2 H919.8 M915.5 1094.9 V1103.5" stroke="#000" stroke-width="4.6" stroke-linecap="round" fill="none"/>
<path d="M911.2 1115.3 H919.8 M915.5 1111.0 V1119.6" stroke="#000" stroke-width="4.6" stroke-linecap="round" fill="none"/>
<path d="M927.9000000000001 1083.3 H936.5 M932.2 1079.0 V1087.6" stroke="#000" stroke-width="4.6" stroke-linecap="round" fill="none"/>
<path d="M927.9000000000001 1099.2 H936.5 M932.2 1094.9 V1103.5" stroke="#000" stroke-width="4.6" stroke-linecap="round" fill="none"/>
<path d="M927.9000000000001 1115.3 H936.5 M932.2 1111.0 V1119.6" stroke="#000" stroke-width="4.6" stroke-linecap="round" fill="none"/>
<g id="logo">
<rect x="462" y="75" width="78" height="21" fill="#fff" fill-opacity="0.36"/>
<path d="M463.1 5.6 H531 V75 H463.1 Z M471.8 13.9 V66.8 H491.1 V13.9 Z M498.8 13.9 V66.8 H525 L501.3 39.2 H509 Q519 39.2 519 29.5 V23.5 Q519 13.9 509 13.9 Z" fill="#000" fill-opacity="0.385" fill-rule="evenodd"/>
<path d="M471.8 13.9 V66.8 H491.1 V13.9 Z M498.8 13.9 V66.8 H525 L501.3 39.2 H509 Q519 39.2 519 29.5 V23.5 Q519 13.9 509 13.9 Z" fill="#fff" fill-opacity="0.42"/>
<text x="463.2" y="90.6" font-family="Liberation Sans" font-size="14" textLength="67.6" lengthAdjust="spacingAndGlyphs" fill="#000" fill-opacity="0.5">REALTOR</text>
<circle cx="535" cy="79.8" r="2.5" fill="none" stroke="#000" stroke-opacity="0.35" stroke-width="0.8"/>
</g>
</svg>
</body></html>
